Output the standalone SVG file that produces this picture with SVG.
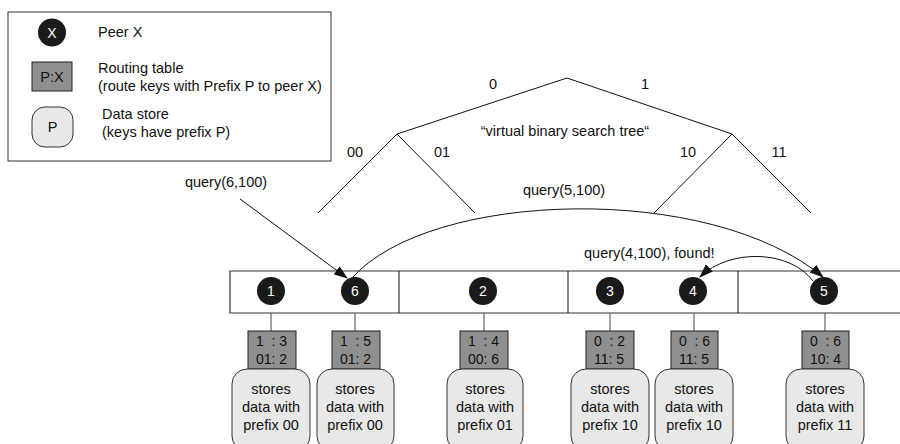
<svg xmlns="http://www.w3.org/2000/svg" width="900" height="444" viewBox="0 0 900 444">
<style>
text{font-family:"Liberation Sans",Arial,sans-serif;fill:#111;}
.t{font-size:14.5px;}
.c{text-anchor:middle;}
.peer{fill:#1a1a1a;}
.pl{fill:#fff;font-size:14px;text-anchor:middle;}
.rt{fill:#8f8f8f;stroke:#222;stroke-width:1;}
.ds{fill:#e8e8e8;stroke:#333;stroke-width:1;}
.ln{stroke:#111;stroke-width:1;fill:none;}
.st{stroke:#444;stroke-width:1;}
.rtx{font-size:14px;}
</style>
<defs>
<marker id="ah" markerWidth="14" markerHeight="10" refX="13" refY="5" orient="auto" markerUnits="userSpaceOnUse">
<path d="M0,0 L14,5 L0,10 Z" fill="#111"/>
</marker>
</defs>
<rect width="900" height="444" fill="#fff"/>
<g id="legend">
<rect x="8" y="12" width="323" height="149" fill="#fff" stroke="#333" stroke-width="1"/>
<circle cx="52" cy="32.5" r="14" class="peer"/>
<text x="52" y="38" class="pl">X</text>
<text x="98" y="37" class="t">Peer X</text>
<rect x="32" y="62" width="40" height="29" class="rt"/>
<text x="52" y="82" class="c t" fill="#222">P:X</text>
<text x="98" y="73" class="t">Routing table</text>
<text x="98" y="91" class="t">(route keys with Prefix P to peer X)</text>
<rect x="32" y="107" width="41" height="40" rx="13" class="ds"/>
<text x="52.5" y="132" class="c t">P</text>
<text x="102" y="119" class="t">Data store</text>
<text x="102" y="137" class="t">(keys have prefix P)</text>
</g>
<g id="tree">
<polyline points="318,213 397,134 567,78 732,134 811,213" class="ln"/>
<line x1="397" y1="134" x2="475" y2="213" class="ln"/>
<line x1="732" y1="134" x2="654" y2="213" class="ln"/>
<text x="493" y="89" class="c t">0</text>
<text x="645" y="89" class="c t">1</text>
<text x="355" y="157" class="c t">00</text>
<text x="442" y="157" class="c t">01</text>
<text x="688" y="157" class="c t">10</text>
<text x="779" y="157" class="c t">11</text>
<text x="565" y="136" class="c t">“virtual binary search tree“</text>
</g>
<g id="row">
<path d="M900,271 L230,271 L230,313 L900,313" fill="none" stroke="#333" stroke-width="1.2"/>
<line x1="399" y1="271" x2="399" y2="313" class="ln"/>
<line x1="568" y1="271" x2="568" y2="313" class="ln"/>
<line x1="738" y1="271" x2="738" y2="313" class="ln"/>
</g>
<g id="peer1">
<circle cx="271" cy="291" r="14" class="peer"/><text x="271" y="296" class="pl">1</text>
<line x1="271" y1="313" x2="271" y2="331" class="st"/>
<rect x="248" y="331" width="48" height="38" class="rt"/>
<text x="256" y="346" class="rtx" xml:space="preserve">1  : 3</text>
<text x="256" y="364" class="rtx">01: 2</text>
<rect x="232" y="369" width="78" height="82" rx="15" class="ds"/>
<text x="271" y="394" class="c t">stores</text>
<text x="271" y="412" class="c t">data with</text>
<text x="271" y="430" class="c t">prefix 00</text>
</g>
<g id="peer6">
<circle cx="355" cy="291" r="14" class="peer"/><text x="355" y="296" class="pl">6</text>
<line x1="355" y1="313" x2="355" y2="331" class="st"/>
<rect x="332" y="331" width="48" height="38" class="rt"/>
<text x="340" y="346" class="rtx" xml:space="preserve">1  : 5</text>
<text x="340" y="364" class="rtx">01: 2</text>
<rect x="317" y="369" width="77" height="82" rx="15" class="ds"/>
<text x="355" y="394" class="c t">stores</text>
<text x="355" y="412" class="c t">data with</text>
<text x="355" y="430" class="c t">prefix 00</text>
</g>
<g id="peer2">
<circle cx="483" cy="291" r="14" class="peer"/><text x="483" y="296" class="pl">2</text>
<line x1="484" y1="313" x2="484" y2="331" class="st"/>
<rect x="460" y="331" width="48" height="38" class="rt"/>
<text x="468" y="346" class="rtx" xml:space="preserve">1  : 4</text>
<text x="468" y="364" class="rtx">00: 6</text>
<rect x="447" y="369" width="76" height="82" rx="15" class="ds"/>
<text x="485" y="394" class="c t">stores</text>
<text x="485" y="412" class="c t">data with</text>
<text x="485" y="430" class="c t">prefix 01</text>
</g>
<g id="peer3">
<circle cx="610" cy="291" r="14" class="peer"/><text x="610" y="296" class="pl">3</text>
<line x1="610" y1="313" x2="610" y2="331" class="st"/>
<rect x="586" y="331" width="48" height="38" class="rt"/>
<text x="594" y="346" class="rtx" xml:space="preserve">0  : 2</text>
<text x="594" y="364" class="rtx">11: 5</text>
<rect x="571" y="369" width="78" height="82" rx="15" class="ds"/>
<text x="610" y="394" class="c t">stores</text>
<text x="610" y="412" class="c t">data with</text>
<text x="610" y="430" class="c t">prefix 10</text>
</g>
<g id="peer4">
<circle cx="693" cy="291" r="14" class="peer"/><text x="693" y="296" class="pl">4</text>
<line x1="694" y1="313" x2="694" y2="331" class="st"/>
<rect x="671" y="331" width="47" height="38" class="rt"/>
<text x="679" y="346" class="rtx" xml:space="preserve">0  : 6</text>
<text x="679" y="364" class="rtx">11: 5</text>
<rect x="655" y="369" width="78" height="82" rx="15" class="ds"/>
<text x="694" y="394" class="c t">stores</text>
<text x="694" y="412" class="c t">data with</text>
<text x="694" y="430" class="c t">prefix 10</text>
</g>
<g id="peer5">
<circle cx="824" cy="291" r="14" class="peer"/><text x="824" y="296" class="pl">5</text>
<line x1="825" y1="313" x2="825" y2="331" class="st"/>
<rect x="802" y="331" width="47" height="38" class="rt"/>
<text x="810" y="346" class="rtx" xml:space="preserve">0  : 6</text>
<text x="810" y="364" class="rtx">10: 4</text>
<rect x="786" y="369" width="78" height="82" rx="15" class="ds"/>
<text x="825" y="394" class="c t">stores</text>
<text x="825" y="412" class="c t">data with</text>
<text x="825" y="430" class="c t">prefix 11</text>
</g>
<g id="connectors">
<line x1="240" y1="199" x2="347" y2="278" class="ln" marker-end="url(#ah)"/>
<path d="M352,278 C430,190 710,182 823,277" class="ln" marker-end="url(#ah)"/>
<path d="M813,281 C790,250 730,248 700,277" class="ln" marker-end="url(#ah)"/>
<text x="226" y="187" class="c t">query(6,100)</text>
<text x="564" y="195" class="c t">query(5,100)</text>
<text x="584" y="258" class="t">query(4,100), found!</text>
</g>
</svg>
